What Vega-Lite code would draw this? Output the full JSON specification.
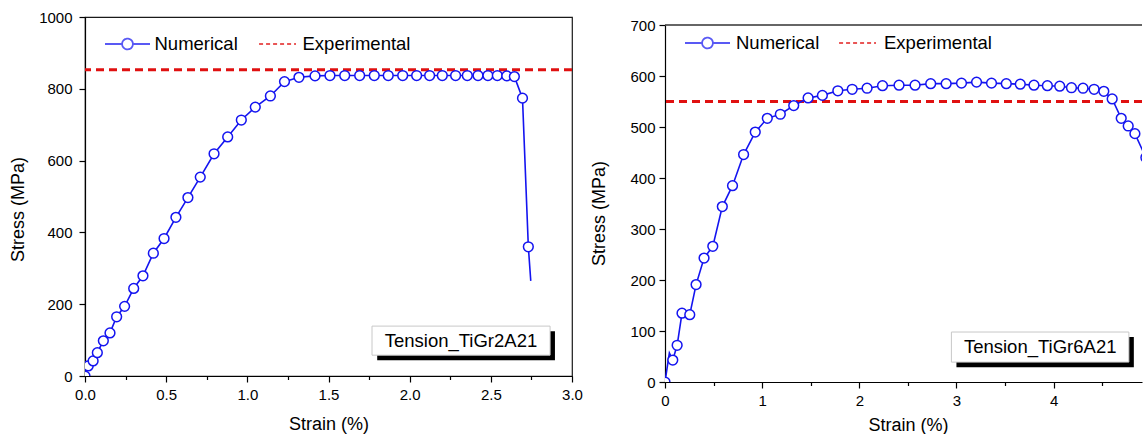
{
  "$schema": "https://vega.github.io/schema/vega-lite/v6.json",
  "background": "white",
  "padding": {"left": 8, "top": 9, "right": 0, "bottom": 0},
  "spacing": 6,
  "resolve": {"scale": {"color": "independent", "shape": "independent", "strokeDash": "independent"}, "legend": {"color": "independent", "shape": "independent", "strokeDash": "independent"}},
  "config": {
    "font": "Liberation Sans",
    "axis": {
      "labelFont": "Liberation Sans", "labelFontSize": 15, "labelColor": "black", "labelFlush": false,
      "titleFont": "Liberation Sans", "titleFontSize": 18, "titleFontWeight": "normal", "titleColor": "black",
      "domainColor": "black", "domainWidth": 1.2, "tickColor": "black", "tickWidth": 1.2, "grid": false
    },
    "legend": {"labelFont": "Liberation Sans", "labelColor": "black"}
  },
  "datasets": {
    "left": [
      {"series": "Numerical", "strain": 0, "stress": 0},
      {"series": "Numerical", "strain": 0.02, "stress": 28},
      {"series": "Numerical", "strain": 0.05, "stress": 42},
      {"series": "Numerical", "strain": 0.076, "stress": 65},
      {"series": "Numerical", "strain": 0.113, "stress": 98},
      {"series": "Numerical", "strain": 0.154, "stress": 120},
      {"series": "Numerical", "strain": 0.195, "stress": 165},
      {"series": "Numerical", "strain": 0.244, "stress": 194},
      {"series": "Numerical", "strain": 0.3, "stress": 244},
      {"series": "Numerical", "strain": 0.357, "stress": 279},
      {"series": "Numerical", "strain": 0.421, "stress": 342},
      {"series": "Numerical", "strain": 0.487, "stress": 383},
      {"series": "Numerical", "strain": 0.56, "stress": 442},
      {"series": "Numerical", "strain": 0.634, "stress": 497},
      {"series": "Numerical", "strain": 0.71, "stress": 554},
      {"series": "Numerical", "strain": 0.795, "stress": 619},
      {"series": "Numerical", "strain": 0.879, "stress": 666},
      {"series": "Numerical", "strain": 0.963, "stress": 713},
      {"series": "Numerical", "strain": 1.049, "stress": 749},
      {"series": "Numerical", "strain": 1.142, "stress": 780},
      {"series": "Numerical", "strain": 1.229, "stress": 820},
      {"series": "Numerical", "strain": 1.318, "stress": 832},
      {"series": "Numerical", "strain": 1.417, "stress": 836},
      {"series": "Numerical", "strain": 1.509, "stress": 837},
      {"series": "Numerical", "strain": 1.6, "stress": 837},
      {"series": "Numerical", "strain": 1.692, "stress": 837},
      {"series": "Numerical", "strain": 1.782, "stress": 837},
      {"series": "Numerical", "strain": 1.868, "stress": 837},
      {"series": "Numerical", "strain": 1.957, "stress": 837},
      {"series": "Numerical", "strain": 2.043, "stress": 837},
      {"series": "Numerical", "strain": 2.123, "stress": 837},
      {"series": "Numerical", "strain": 2.201, "stress": 837},
      {"series": "Numerical", "strain": 2.283, "stress": 837},
      {"series": "Numerical", "strain": 2.355, "stress": 837},
      {"series": "Numerical", "strain": 2.421, "stress": 837},
      {"series": "Numerical", "strain": 2.482, "stress": 837},
      {"series": "Numerical", "strain": 2.54, "stress": 837},
      {"series": "Numerical", "strain": 2.598, "stress": 836},
      {"series": "Numerical", "strain": 2.645, "stress": 834},
      {"series": "Numerical", "strain": 2.695, "stress": 774},
      {"series": "Numerical", "strain": 2.731, "stress": 360},
      {"series": "Numerical", "strain": 2.746, "stress": 265},
      {"series": "Experimental", "stress": 853}
    ],
    "right": [
      {"series": "Numerical", "strain": 0, "stress": 0},
      {"series": "Numerical", "strain": 0.045, "stress": 57},
      {"series": "Numerical", "strain": 0.08, "stress": 43},
      {"series": "Numerical", "strain": 0.125, "stress": 72},
      {"series": "Numerical", "strain": 0.175, "stress": 135},
      {"series": "Numerical", "strain": 0.255, "stress": 132},
      {"series": "Numerical", "strain": 0.32, "stress": 191},
      {"series": "Numerical", "strain": 0.402, "stress": 243},
      {"series": "Numerical", "strain": 0.492, "stress": 266},
      {"series": "Numerical", "strain": 0.59, "stress": 344},
      {"series": "Numerical", "strain": 0.695, "stress": 385},
      {"series": "Numerical", "strain": 0.809, "stress": 446},
      {"series": "Numerical", "strain": 0.929, "stress": 490},
      {"series": "Numerical", "strain": 1.053, "stress": 517},
      {"series": "Numerical", "strain": 1.187, "stress": 525},
      {"series": "Numerical", "strain": 1.325, "stress": 542},
      {"series": "Numerical", "strain": 1.473, "stress": 557},
      {"series": "Numerical", "strain": 1.62, "stress": 562},
      {"series": "Numerical", "strain": 1.779, "stress": 571},
      {"series": "Numerical", "strain": 1.927, "stress": 574},
      {"series": "Numerical", "strain": 2.08, "stress": 576},
      {"series": "Numerical", "strain": 2.239, "stress": 581},
      {"series": "Numerical", "strain": 2.409, "stress": 582},
      {"series": "Numerical", "strain": 2.574, "stress": 582},
      {"series": "Numerical", "strain": 2.735, "stress": 585},
      {"series": "Numerical", "strain": 2.894, "stress": 585},
      {"series": "Numerical", "strain": 3.052, "stress": 586},
      {"series": "Numerical", "strain": 3.207, "stress": 588},
      {"series": "Numerical", "strain": 3.361, "stress": 586},
      {"series": "Numerical", "strain": 3.513, "stress": 585},
      {"series": "Numerical", "strain": 3.657, "stress": 584},
      {"series": "Numerical", "strain": 3.798, "stress": 582},
      {"series": "Numerical", "strain": 3.936, "stress": 581},
      {"series": "Numerical", "strain": 4.063, "stress": 580},
      {"series": "Numerical", "strain": 4.184, "stress": 577},
      {"series": "Numerical", "strain": 4.303, "stress": 576},
      {"series": "Numerical", "strain": 4.417, "stress": 574},
      {"series": "Numerical", "strain": 4.517, "stress": 570},
      {"series": "Numerical", "strain": 4.603, "stress": 555},
      {"series": "Numerical", "strain": 4.696, "stress": 517},
      {"series": "Numerical", "strain": 4.768, "stress": 502},
      {"series": "Numerical", "strain": 4.837, "stress": 487},
      {"series": "Numerical", "strain": 4.95, "stress": 440},
      {"series": "Experimental", "stress": 550}
    ]
  },
  "hconcat": [
    {
      "width": 487,
      "height": 359,
      "view": {"stroke": "#1a1a1a", "strokeWidth": 1.2},
      "layer": [
        {
          "data": {"values": [{"label": "Tension_TiGr2A21"}]},
          "mark": {"type": "rect", "color": "black"},
          "encoding": {
            "x": {"datum": 1.8, "type": "quantitative"},
            "x2": {"datum": 2.895},
            "y": {"datum": 125, "type": "quantitative"},
            "y2": {"datum": 44}
          }
        },
        {
          "data": {"values": [{"label": "Tension_TiGr2A21"}]},
          "mark": {"type": "rect", "fill": "white", "stroke": "#c8c8c8", "strokeWidth": 1},
          "encoding": {
            "x": {"datum": 1.768, "type": "quantitative"},
            "x2": {"datum": 2.865},
            "y": {"datum": 139, "type": "quantitative"},
            "y2": {"datum": 58}
          }
        },
        {
          "data": {"values": [{"label": "Tension_TiGr2A21"}]},
          "mark": {"type": "text", "fontSize": 18.5, "font": "Liberation Sans", "color": "black"},
          "encoding": {
            "x": {"datum": 2.316, "type": "quantitative"},
            "y": {"datum": 98, "type": "quantitative"},
            "text": {"field": "label"}
          }
        },
        {
          "data": {"name": "left"},
          "transform": [{"filter": "datum.series === 'Experimental'"}],
          "mark": {"type": "rule", "strokeWidth": 3, "strokeDash": [8, 5]},
          "encoding": {
            "y": {"field": "stress", "type": "quantitative"},
            "color": {"field": "series", "type": "nominal"}
          }
        },
        {
          "data": {"name": "left"},
          "transform": [{"filter": "datum.series === 'Numerical'"}],
          "mark": {"type": "line", "strokeWidth": 1.6, "clip": true},
          "encoding": {
            "x": {
              "field": "strain", "type": "quantitative",
              "scale": {"domain": [0, 3], "nice": false, "zero": false},
              "axis": {
                "title": "Strain (%)",
                "values": [0, 0.25, 0.5, 0.75, 1, 1.25, 1.5, 1.75, 2, 2.25, 2.5, 2.75, 3],
                "labelExpr": "(datum.value * 4) % 2 === 0 ? format(datum.value, '.1f') : ''",
                "tickSize": {"condition": {"test": "(datum.value * 4) % 2 === 0", "value": 6}, "value": 3.5},
                "labelPadding": 5.5, "labelOverlap": false, "labelFlush": false,
                "titleY": 48, "titleBaseline": "middle"
              }
            },
            "y": {
              "field": "stress", "type": "quantitative",
              "scale": {"domain": [0, 1000], "nice": false},
              "axis": {
                "title": "Stress (MPa)",
                "values": [0, 100, 200, 300, 400, 500, 600, 700, 800, 900, 1000],
                "labelExpr": "datum.value % 200 === 0 ? format(datum.value, 'd') : ''",
                "tickSize": {"condition": {"test": "datum.value % 200 === 0", "value": 6}, "value": 3.5},
                "labelPadding": 7, "labelOverlap": false, "labelFlush": false,
                "titleX": -67, "titleY": 192, "titleBaseline": "middle", "titleAlign": "center"
              }
            },
            "color": {
              "field": "series", "type": "nominal",
              "scale": {"domain": ["Numerical", "Experimental"], "range": ["#1414f0", "#e01010"]},
              "legend": {
                "orient": "none", "legendX": 19, "legendY": 3.5, "direction": "horizontal", "title": null,
                "symbolSize": 2025, "symbolStrokeWidth": 1.8, "symbolFillColor": "white", "symbolOpacity": 1,
                "labelFontSize": 18.5, "labelOffset": 3.5, "columnPadding": 14, "padding": 0
              }
            }
          }
        },
        {
          "data": {"name": "left"},
          "transform": [{"filter": "datum.series === 'Numerical' && datum.strain < 2.74"}],
          "mark": {"type": "point", "shape": "circle", "filled": false, "fill": "white", "stroke": "#1414f0", "strokeWidth": 1.5, "size": 95, "opacity": 1, "clip": true},
          "encoding": {
            "x": {"field": "strain", "type": "quantitative"},
            "y": {"field": "stress", "type": "quantitative"}
          }
        },
        {
          "data": {"name": "left"},
          "transform": [{"filter": "false"}],
          "mark": {"type": "point", "filled": false},
          "encoding": {
            "x": {"field": "strain", "type": "quantitative"},
            "y": {"field": "stress", "type": "quantitative"},
            "shape": {
              "field": "series", "type": "nominal",
              "scale": {"domain": ["Numerical", "Experimental"], "range": ["M-1,0L-0.24,0M0.24,0L1,0M-0.24,0A0.24,0.24,0,1,1,0.24,0A0.24,0.24,0,1,1,-0.24,0", "M-0.73,0L0.91,0"]}
            },
            "strokeDash": {
              "field": "series", "type": "nominal",
              "scale": {"domain": ["Numerical", "Experimental"], "range": [[1, 0], [4, 3]]}
            }
          }
        }
      ]
    },
    {
      "spacing": 0,
      "vconcat": [
        {
          "width": 477,
          "height": 0.5,
          "view": {"stroke": null},
          "data": {"values": []},
          "mark": "rule",
          "encoding": {}
        },
        {
          "width": 477,
          "height": 357,
          "view": {"stroke": null},
          "layer": [
            {
              "data": {"values": [{"label": "Tension_TiGr6A21"}]},
              "mark": {"type": "rect", "color": "black"},
              "encoding": {
                "x": {"datum": 3.0, "type": "quantitative"},
                "x2": {"datum": 4.826},
                "y": {"datum": 88, "type": "quantitative"},
                "y2": {"datum": 29}
              }
            },
            {
              "data": {"values": [{"label": "Tension_TiGr6A21"}]},
              "mark": {"type": "rect", "fill": "white", "stroke": "#c8c8c8", "strokeWidth": 1},
              "encoding": {
                "x": {"datum": 2.948, "type": "quantitative"},
                "x2": {"datum": 4.775},
                "y": {"datum": 98, "type": "quantitative"},
                "y2": {"datum": 39}
              }
            },
            {
              "data": {"values": [{"label": "Tension_TiGr6A21"}]},
              "mark": {"type": "text", "fontSize": 18.5, "font": "Liberation Sans", "color": "black"},
              "encoding": {
                "x": {"datum": 3.862, "type": "quantitative"},
                "y": {"datum": 68, "type": "quantitative"},
                "text": {"field": "label"}
              }
            },
            {
              "data": {"values": [{"label": "frame"}]},
              "mark": {"type": "rule", "color": "#333333", "strokeWidth": 1.5},
              "encoding": {
                "y": {"datum": 700, "type": "quantitative"}
              }
            },
            {
              "data": {"name": "right"},
              "transform": [{"filter": "datum.series === 'Experimental'"}],
              "mark": {"type": "rule", "strokeWidth": 3, "strokeDash": [8, 5]},
              "encoding": {
                "y": {"field": "stress", "type": "quantitative"},
                "color": {"field": "series", "type": "nominal"}
              }
            },
            {
              "data": {"name": "right"},
              "transform": [{"filter": "datum.series === 'Numerical'"}],
              "mark": {"type": "line", "strokeWidth": 1.6, "clip": true},
              "encoding": {
                "x": {
                  "field": "strain", "type": "quantitative",
                  "scale": {"domain": [0, 4.91], "nice": false, "zero": false},
                  "axis": {
                    "title": "Strain (%)",
                    "values": [0, 0.5, 1, 1.5, 2, 2.5, 3, 3.5, 4, 4.5],
                    "labelExpr": "datum.value % 1 === 0 ? format(datum.value, 'd') : ''",
                    "tickSize": {"condition": {"test": "datum.value % 1 === 0", "value": 6}, "value": 3.5},
                    "labelPadding": 5, "labelOverlap": false, "labelFlush": false,
                    "titleX": 243, "titleY": 43, "titleBaseline": "middle"
                  }
                },
                "y": {
                  "field": "stress", "type": "quantitative",
                  "scale": {"domain": [0, 700], "nice": false},
                  "axis": {
                    "title": "Stress (MPa)",
                    "values": [0, 50, 100, 150, 200, 250, 300, 350, 400, 450, 500, 550, 600, 650, 700],
                    "labelExpr": "datum.value % 100 === 0 ? format(datum.value, 'd') : ''",
                    "tickSize": {"condition": {"test": "datum.value % 100 === 0", "value": 6}, "value": 3.5},
                    "labelPadding": 4, "labelOverlap": false, "labelFlush": false,
                    "titleX": -66, "titleY": 188, "titleBaseline": "middle", "titleAlign": "center"
                  }
                },
                "color": {
                  "field": "series", "type": "nominal",
                  "scale": {"domain": ["Numerical", "Experimental"], "range": ["#1414f0", "#e01010"]},
                  "legend": {
                    "orient": "none", "legendX": 19, "legendY": 2.5, "direction": "horizontal", "title": null,
                    "symbolSize": 2025, "symbolStrokeWidth": 1.8, "symbolFillColor": "white", "symbolOpacity": 1,
                    "labelFontSize": 18.5, "labelOffset": 5, "columnPadding": 12, "padding": 0
                  }
                }
              }
            },
            {
              "data": {"name": "right"},
              "transform": [{"filter": "datum.series === 'Numerical' && datum.strain !== 0.045"}],
              "mark": {"type": "point", "shape": "circle", "filled": false, "fill": "white", "stroke": "#1414f0", "strokeWidth": 1.5, "size": 95, "opacity": 1, "clip": true},
              "encoding": {
                "x": {"field": "strain", "type": "quantitative"},
                "y": {"field": "stress", "type": "quantitative"}
              }
            },
            {
              "data": {"name": "right"},
              "transform": [{"filter": "false"}],
              "mark": {"type": "point", "filled": false},
              "encoding": {
                "x": {"field": "strain", "type": "quantitative"},
                "y": {"field": "stress", "type": "quantitative"},
                "shape": {
                  "field": "series", "type": "nominal",
                  "scale": {"domain": ["Numerical", "Experimental"], "range": ["M-1,0L-0.24,0M0.24,0L1,0M-0.24,0A0.24,0.24,0,1,1,0.24,0A0.24,0.24,0,1,1,-0.24,0", "M-0.73,0L0.91,0"]}
                },
                "strokeDash": {
                  "field": "series", "type": "nominal",
                  "scale": {"domain": ["Numerical", "Experimental"], "range": [[1, 0], [4, 3]]}
                }
              }
            }
          ]
        }
      ]
    }
  ]
}
